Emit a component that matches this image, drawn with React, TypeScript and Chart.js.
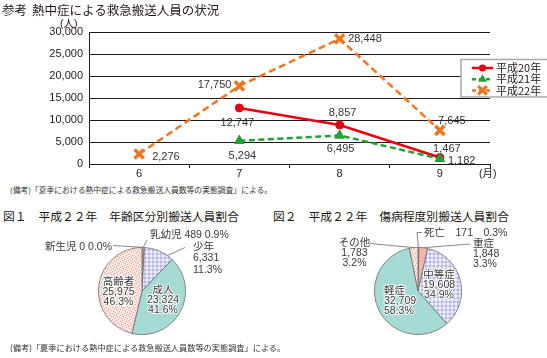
import React, { useEffect, useRef } from 'react';
import { Chart, registerables } from 'chart.js';

Chart.register(...registerables);

// ---------- data ----------
const months = ['6', '7', '8', '9'];
const seriesNames = ['平成20年', '平成21年', '平成22年'];
const h20 = [null, 12747, 8857, 1467];
const h21 = [null, 5294, 6495, 1182];
const h22 = [2276, 17750, 28448, 7645];
const yTicks = [0, 5000, 10000, 15000, 20000, 25000, 30000];

const ageLabels = ['新生児', '乳幼児', '少年', '成人', '高齢者'];
const ageValues = [0, 489, 6331, 23324, 25975];
const severityLabels = ['死亡', '重症', '中等症', '軽症', 'その他'];
const severityValues = [171, 1848, 19608, 32709, 1783];

// ---------- styles ----------
const LATIN = '"Liberation Sans", "Noto Sans CJK JP", sans-serif';
const CJK = '"Noto Sans CJK JP", "Liberation Sans", sans-serif';
const INK = '#231815';
const RED = '#e50012';
const GREEN = '#22a03a';
const ORANGE = '#f07520';

// label placement per series / point: [align, dx, dy]
const pointLabelPlacement: (null | [string, number, number])[][] = [
  [null, ['c', -2, 15], ['c', 3, -12], ['c', 7, -8.5]],
  [null, ['c', 3, 15], ['c', 1, 13.5], ['l', 8, 2]],
  [['l', 13, 3], ['r', -8, -1], ['l', 8.5, 0], ['c', 12, -9]],
];

function fmt(v: number) {
  return Number(v).toLocaleString('en-US');
}

function drawMarker(ctx: CanvasRenderingContext2D, style: string, x: number, y: number, color: string) {
  ctx.save();
  ctx.fillStyle = color;
  ctx.strokeStyle = color;
  ctx.setLineDash([]);
  if (style === 'circle') {
    ctx.beginPath();
    ctx.arc(x, y, 3.6, 0, Math.PI * 2);
    ctx.fill();
  } else if (style === 'triangle') {
    const r = 5;
    ctx.beginPath();
    ctx.moveTo(x, y - r);
    ctx.lineTo(x + r * 0.87, y + r * 0.5);
    ctx.lineTo(x - r * 0.87, y + r * 0.5);
    ctx.closePath();
    ctx.fill();
  } else {
    const o = 4.3;
    ctx.lineWidth = 3.2;
    ctx.beginPath();
    ctx.moveTo(x - o, y - o);
    ctx.lineTo(x + o, y + o);
    ctx.moveTo(x + o, y - o);
    ctx.lineTo(x - o, y + o);
    ctx.stroke();
  }
  ctx.restore();
}

const pointLabelPlugin = {
  id: 'pointLabels',
  afterDatasetsDraw(chart: any) {
    const ctx: CanvasRenderingContext2D = chart.ctx;
    ctx.save();
    ctx.font = `11px ${LATIN}`;
    ctx.fillStyle = '#333';
    ctx.textBaseline = 'middle';
    chart.data.datasets.forEach((ds: any, di: number) => {
      const meta = chart.getDatasetMeta(di);
      ds.data.forEach((v: any, i: number) => {
        const p = pointLabelPlacement[di][i];
        if (v == null || !p) return;
        const el = meta.data[i];
        ctx.textAlign = p[0] === 'l' ? 'left' : p[0] === 'r' ? 'right' : 'center';
        ctx.fillText(fmt(v), el.x + p[1], el.y + p[2]);
      });
    });
    ctx.restore();
  },
};

const boxLegendPlugin = {
  id: 'boxLegend',
  afterDraw(chart: any) {
    const ctx: CanvasRenderingContext2D = chart.ctx;
    const x = chart.chartArea.right - 29;
    const y = 59.5;
    ctx.save();
    ctx.fillStyle = '#fff';
    ctx.fillRect(x, y, 100, 37.5);
    ctx.strokeStyle = '#a8a8a8';
    ctx.lineWidth = 1.5;
    ctx.strokeRect(x, y, 100, 37.5);
    chart.data.datasets.forEach((ds: any, i: number) => {
      const cy = y + 8.5 + i * 11.2;
      ctx.strokeStyle = ds.borderColor;
      ctx.lineWidth = 2.5;
      ctx.setLineDash(ds.borderDash ? [4, 3] : []);
      ctx.beginPath();
      ctx.moveTo(x + 11, cy);
      ctx.lineTo(x + 32, cy);
      ctx.stroke();
      ctx.setLineDash([]);
      drawMarker(ctx, ds.pointStyle, x + 21.5, cy, ds.borderColor);
      ctx.fillStyle = INK;
      ctx.font = `11px ${CJK}`;
      ctx.textAlign = 'left';
      ctx.textBaseline = 'middle';
      ctx.fillText(ds.label, x + 35, cy);
    });
    ctx.restore();
  },
};

type PieItem = {
  i: number;
  mode: 'inline' | 'stack';
  align: CanvasTextAlign;
  dx: number;
  dy: number;
  lh?: number;
  sep?: string;
  halo?: boolean;
  leader?: { pts: [number, number][]; frac: number };
};

const ageLabelLayout: PieItem[] = [
  { i: 0, mode: 'inline', align: 'right', dx: -30, dy: -44, sep: ' ', leader: { pts: [[-29, -45.5]], frac: 0 } },
  { i: 1, mode: 'inline', align: 'left', dx: 8, dy: -56, sep: ' ', leader: { pts: [[5, -51]], frac: 0.5 } },
  { i: 2, mode: 'stack', align: 'left', dx: 51, dy: -44, lh: 11.5, leader: { pts: [[43, -43.5]], frac: 0.8 } },
  { i: 3, mode: 'stack', align: 'center', dx: 21, dy: -0.5, lh: 10, halo: true },
  { i: 4, mode: 'stack', align: 'center', dx: -23.5, dy: -9, lh: 10, halo: true },
];

const severityLabelLayout: PieItem[] = [
  { i: 0, mode: 'inline', align: 'left', dx: 6, dy: -58, sep: '　', leader: { pts: [[4, -58.5], [-1, -58.5]], frac: 0.5 } },
  { i: 1, mode: 'stack', align: 'left', dx: 55, dy: -47, lh: 10, leader: { pts: [[52, -47]], frac: 0.5 } },
  { i: 2, mode: 'stack', align: 'center', dx: 21, dy: -16, lh: 10, halo: true },
  { i: 3, mode: 'stack', align: 'left', dx: -34, dy: -0.3, lh: 10, halo: true },
  { i: 4, mode: 'stack', align: 'center', dx: -63.5, dy: -48, lh: 10, leader: { pts: [[-48, -47.5]], frac: 0.5 } },
];

function makePieLabelPlugin(items: PieItem[], labels: string[], values: number[]) {
  return {
    id: 'pieLabels',
    afterDraw(chart: any) {
      const ctx: CanvasRenderingContext2D = chart.ctx;
      const arcs = chart.getDatasetMeta(0).data as any[];
      const cx = arcs[0].x;
      const cy = arcs[0].y;
      const R = arcs[0].outerRadius;
      const total = values.reduce((a, b) => a + b, 0);
      ctx.save();
      items.forEach((it) => {
        const arc = arcs[it.i];
        if (it.leader) {
          const a = arc.startAngle + it.leader.frac * (arc.endAngle - arc.startAngle);
          ctx.strokeStyle = '#7a7a7a';
          ctx.lineWidth = 0.9;
          ctx.beginPath();
          it.leader.pts.forEach(([px, py], k) => (k ? ctx.lineTo(cx + px, cy + py) : ctx.moveTo(cx + px, cy + py)));
          ctx.lineTo(cx + Math.cos(a) * R, cy + Math.sin(a) * R);
          ctx.stroke();
        }
        const name = labels[it.i];
        const val = fmt(values[it.i]);
        const pct = ((values[it.i] / total) * 100).toFixed(1) + '%';
        const lines = it.mode === 'inline' ? [name + it.sep + val + it.sep + pct] : [name, val, pct];
        ctx.font = `10.5px ${LATIN}`;
        ctx.textAlign = it.align;
        ctx.textBaseline = 'middle';
        lines.forEach((t, k) => {
          const x = cx + it.dx;
          const y = cy + it.dy + k * (it.lh || 10);
          if (it.halo) {
            ctx.strokeStyle = 'rgba(255,255,255,0.95)';
            ctx.lineWidth = 2;
            ctx.lineJoin = 'round';
            ctx.strokeText(t, x, y);
          }
          ctx.fillStyle = '#3a3a3a';
          ctx.fillText(t, x, y);
        });
      });
      ctx.restore();
    },
  };
}

function makePattern(kind: 'check' | 'dots'): CanvasPattern | string {
  const c = document.createElement('canvas');
  const g = c.getContext('2d');
  if (!g) return kind === 'check' ? '#d3d6f2' : '#fbe5e0';
  if (kind === 'check') {
    c.width = 4;
    c.height = 4;
    g.fillStyle = '#f2f3fb';
    g.fillRect(0, 0, 4, 4);
    g.fillStyle = '#d2d5f2';
    g.fillRect(0, 0, 4, 2);
    g.fillRect(0, 0, 2, 4);
    g.fillStyle = '#b4b9e7';
    g.fillRect(0, 0, 2, 2);
  } else {
    c.width = 6;
    c.height = 6;
    g.fillStyle = '#fbe6e1';
    g.fillRect(0, 0, 6, 6);
    g.fillStyle = '#e3a197';
    [[0, 0], [3, 1], [1, 3], [4, 4], [5, 2], [2, 5]].forEach(([x, y]) => g.fillRect(x, y, 1, 1));
  }
  return g.createPattern(c, 'repeat') || '#eee';
}

const TEAL = '#a6dad5';
const SALMON = '#f2b6a8';

export default function App() {
  const lineRef = useRef<HTMLCanvasElement>(null);
  const pie1Ref = useRef<HTMLCanvasElement>(null);
  const pie2Ref = useRef<HTMLCanvasElement>(null);

  useEffect(() => {
    const charts: Chart[] = [];
    const check = makePattern('check');
    const dots = makePattern('dots');

    if (lineRef.current) {
      charts.push(
        new Chart(lineRef.current, {
          type: 'line',
          data: {
            labels: months,
            datasets: [
              {
                label: seriesNames[0], data: h20 as any, borderColor: RED, backgroundColor: RED,
                borderWidth: 2.5, pointStyle: 'circle', pointRadius: 4, pointBorderWidth: 1, order: 1,
              },
              {
                label: seriesNames[1], data: h21 as any, borderColor: GREEN, backgroundColor: GREEN,
                borderWidth: 2.5, borderDash: [6, 3.5], pointStyle: 'triangle', pointRadius: 5.5, pointBorderWidth: 1, order: 0,
              },
              {
                label: seriesNames[2], data: h22 as any, borderColor: ORANGE, backgroundColor: ORANGE,
                borderWidth: 2.5, borderDash: [7, 4], pointStyle: 'crossRot', pointRadius: 6.5, pointBorderWidth: 3.5, order: 2,
              },
            ],
          },
          options: {
            responsive: false,
            animation: false,
            layout: { padding: { left: 0, right: 57, top: 32, bottom: 0 } },
            plugins: { legend: { display: false }, tooltip: { enabled: false } },
            scales: {
              x: {
                type: 'category',
                offset: true,
                grid: { display: true, offset: true, drawOnChartArea: false, drawTicks: true, tickLength: 4, color: INK, lineWidth: 1 },
                border: { display: true, color: INK, width: 1 },
                ticks: { font: { family: LATIN, size: 11 }, color: INK, padding: -1 },
                afterFit: (s: any) => { s.height = 16; },
              },
              y: {
                min: yTicks[0],
                max: yTicks[yTicks.length - 1],
                afterBuildTicks: (s: any) => { s.ticks = yTicks.map((v) => ({ value: v })); },
                grid: { color: INK, lineWidth: 1, drawTicks: false },
                border: { display: true, color: INK, width: 1 },
                ticks: { font: { family: LATIN, size: 11 }, color: INK, padding: 6, callback: (v: any) => fmt(v) },
                afterFit: (s: any) => { s.width = 89; },
              },
            },
          },
          plugins: [pointLabelPlugin, boxLegendPlugin],
        })
      );
    }

    const pieOptions = (padLeft: number, padRight: number) => ({
      responsive: false,
      animation: false as const,
      layout: { padding: { left: padLeft, right: padRight, top: 22, bottom: 10 } },
      plugins: { legend: { display: false }, tooltip: { enabled: false } },
    });

    if (pie1Ref.current) {
      charts.push(
        new Chart(pie1Ref.current, {
          type: 'pie',
          data: {
            labels: ageLabels,
            datasets: [{
              data: ageValues,
              backgroundColor: [SALMON, '#e39f8f', check, TEAL, dots] as any,
              borderColor: '#6c6c6c',
              borderWidth: 0.8,
            }],
          },
          options: pieOptions(98, 87) as any,
          plugins: [makePieLabelPlugin(ageLabelLayout, ageLabels, ageValues)],
        })
      );
    }

    if (pie2Ref.current) {
      charts.push(
        new Chart(pie2Ref.current, {
          type: 'pie',
          data: {
            labels: severityLabels,
            datasets: [{
              data: severityValues,
              backgroundColor: ['#e39f8f', SALMON, check, TEAL, dots] as any,
              borderColor: '#6c6c6c',
              borderWidth: 0.8,
            }],
          },
          options: pieOptions(101, 85) as any,
          plugins: [makePieLabelPlugin(severityLabelLayout, severityLabels, severityValues)],
        })
      );
    }

    return () => charts.forEach((c) => c.destroy());
  }, []);

  const text = (t: string, left: number, cy: number, size: number, family = CJK, color = INK): React.ReactElement => (
    <div
      style={{
        position: 'absolute', left, top: cy - size / 2, fontSize: size, lineHeight: `${size}px`,
        fontFamily: family, color, whiteSpace: 'nowrap',
      }}
    >
      {t}
    </div>
  );

  return (
    <div style={{ position: 'absolute', left: 0, top: 0, width: 547, height: 358, background: '#fff', overflow: 'hidden' }}>
      <canvas ref={lineRef} width={547} height={180} style={{ position: 'absolute', left: 0, top: 0, display: 'block' }} />
      <canvas ref={pie1Ref} width={273} height={120} style={{ position: 'absolute', left: 0, top: 225, display: 'block' }} />
      <canvas ref={pie2Ref} width={274} height={120} style={{ position: 'absolute', left: 273, top: 225, display: 'block' }} />
      {text('参考', 2, 10, 12.5)}
      {text('熱中症による救急搬送人員の状況', 32, 10, 12.5)}
      {text('(人)', 60, 23, 10.5, LATIN)}
      {text('(月)', 479, 173, 10.5, LATIN)}
      {text('(備考)「夏季における熱中症による救急搬送人員数等の実態調査」による。', 10, 190, 7.8, CJK, '#333')}
      {text('図１　平成２２年　年齢区分別搬送人員割合', 3, 216, 11.8)}
      {text('図２　平成２２年　傷病程度別搬送人員割合', 273, 216, 11.8)}
      {text('(備考)「夏季における熱中症による救急搬送人員数等の実態調査」による。', 10, 347, 8.2, CJK, '#333')}
    </div>
  );
}
